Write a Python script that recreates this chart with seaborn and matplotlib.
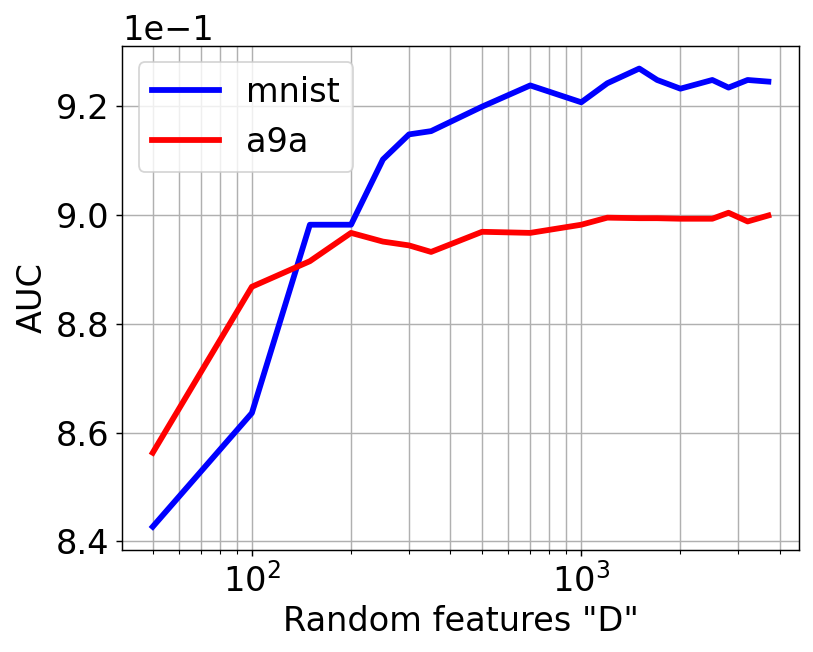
import matplotlib

matplotlib.use("Agg")
import matplotlib.pyplot as plt
import numpy as np
import seaborn as sns

# number of random features D
D = [50, 100, 150, 200, 250, 300, 350, 500, 700, 1000,
     1200, 1500, 1700, 2000, 2500, 2800, 3200, 3700]

# AUC per dataset
mnist_auc = [0.8427, 0.8636, 0.8982, 0.8982, 0.9102, 0.9148, 0.9154, 0.9199, 0.9238, 0.9207,
             0.9242, 0.9269, 0.9248, 0.9232, 0.9248, 0.9234, 0.9248, 0.9245]
a9a_auc = [0.8563, 0.8868, 0.8915, 0.8967, 0.8951, 0.8944, 0.8932, 0.8969, 0.8967, 0.8982,
           0.8995, 0.8994, 0.8994, 0.8993, 0.8993, 0.9004, 0.8988, 0.8999]

plt.rcParams["font.size"] = 18.6

fig = plt.figure(figsize=(813 / 130, 652 / 130), dpi=130)
ax = fig.add_axes([0.15, 0.157, 0.833, 0.773])

sns.lineplot(x=D, y=mnist_auc, color="blue", linewidth=3.2, label="mnist", ax=ax)
sns.lineplot(x=D, y=a9a_auc, color="red", linewidth=3.2, label="a9a", ax=ax)

ax.set_xscale("log")
ax.ticklabel_format(axis="y", style="sci", scilimits=(0, 0))
ax.grid(True, which="both", axis="x")
ax.grid(True, which="major", axis="y")
ax.set_xlabel('Random features "D"')
ax.set_ylabel("AUC")
ax.legend(loc="upper left")

fig.savefig("out.png", dpi=130)
